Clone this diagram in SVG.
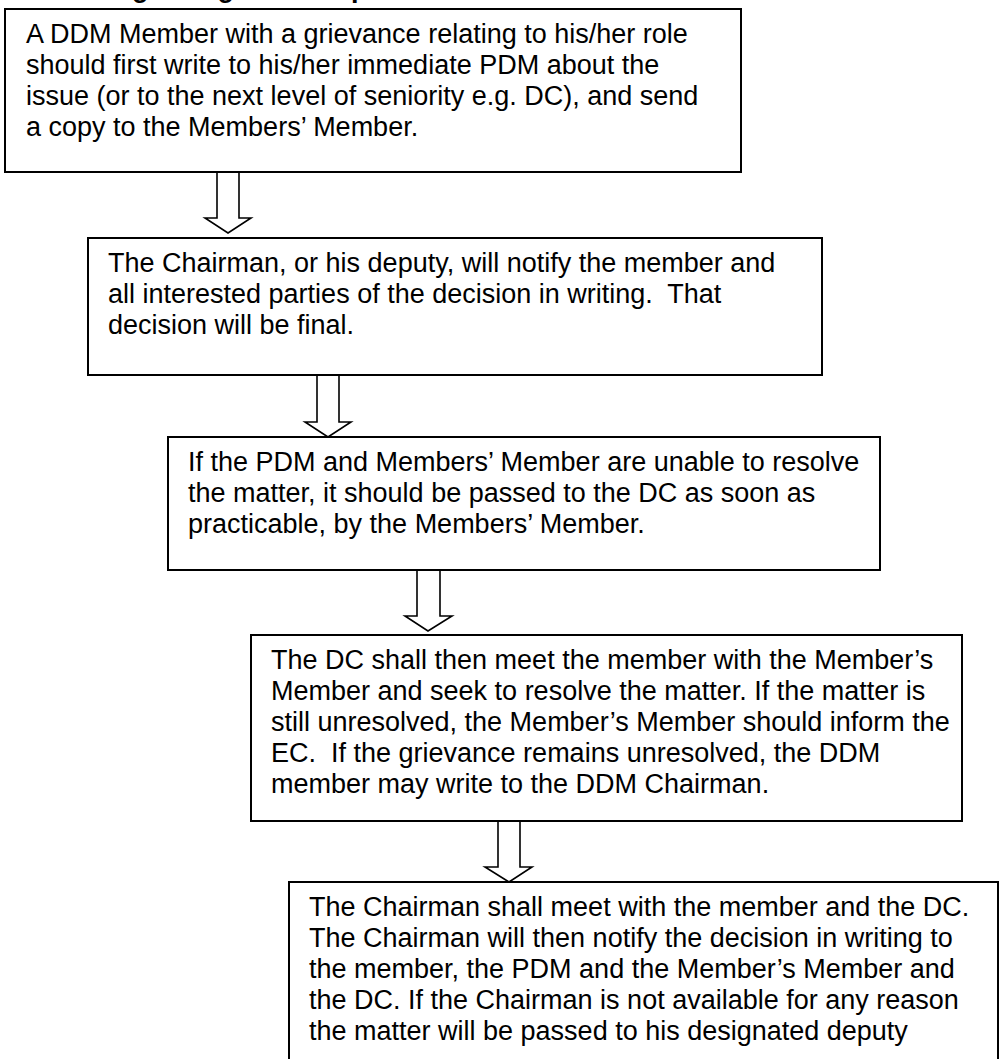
<svg xmlns="http://www.w3.org/2000/svg" width="1008" height="1059" viewBox="0 0 1008 1059">
  <style>
    .box { fill: #ffffff; stroke: #000000; stroke-width: 2; }
    .arrow { fill: #ffffff; stroke: #000000; stroke-width: 1.6; stroke-linejoin: miter; }
    .txt { font-family: "Liberation Sans", Arial, sans-serif; font-size: 27px; fill: #000000; white-space: pre; }
    .head { font-family: "Liberation Sans", Arial, sans-serif; font-size: 27px; font-weight: bold; fill: #000000; }
  </style>
  <rect x="0" y="0" width="1008" height="1059" fill="#ffffff"/>

  <!-- page heading, mostly above the top edge -->
  <text class="head" x="51" y="-3">Dealing with grievance procedure</text>

  <g id="connectors">
    <polygon class="arrow" points="217,172 239,172 239,218 251,218 228,233 205,218 217,218"/>
    <polygon class="arrow" points="317,375 339,375 339,422 351,422 328,437 305,422 317,422"/>
    <polygon class="arrow" points="417,570 440,570 440,616 452,616 428,631 405,616 417,616"/>
    <polygon class="arrow" points="498,821 520,821 520,867 532,867 509,882 485,867 498,867"/>
  </g>

  <g id="step1">
    <rect class="box" x="5" y="9" width="736" height="163"/>
    <text class="txt" x="26" y="43">A DDM Member with a grievance relating to his/her role</text>
    <text class="txt" x="26" y="74">should first write to his/her immediate PDM about the</text>
    <text class="txt" x="26" y="105">issue (or to the next level of seniority e.g. DC), and send</text>
    <text class="txt" x="26" y="136">a copy to the Members’ Member.</text>
  </g>

  <g id="step2">
    <rect class="box" x="88" y="238" width="734" height="137"/>
    <text class="txt" x="108" y="272">The Chairman, or his deputy, will notify the member and</text>
    <text class="txt" x="108" y="303">all interested parties of the decision in writing.  That</text>
    <text class="txt" x="108" y="334">decision will be final.</text>
  </g>

  <g id="step3">
    <rect class="box" x="168" y="437" width="712" height="133"/>
    <text class="txt" x="188" y="471">If the PDM and Members’ Member are unable to resolve</text>
    <text class="txt" x="188" y="502">the matter, it should be passed to the DC as soon as</text>
    <text class="txt" x="188" y="533">practicable, by the Members’ Member.</text>
  </g>

  <g id="step4">
    <rect class="box" x="251" y="635" width="711" height="186"/>
    <text class="txt" x="271" y="669">The DC shall then meet the member with the Member’s</text>
    <text class="txt" x="271" y="700">Member and seek to resolve the matter. If the matter is</text>
    <text class="txt" x="271" y="731">still unresolved, the Member’s Member should inform the</text>
    <text class="txt" x="271" y="762">EC.  If the grievance remains unresolved, the DDM</text>
    <text class="txt" x="271" y="793">member may write to the DDM Chairman.</text>
  </g>

  <g id="step5">
    <rect class="box" x="289" y="882" width="709" height="200"/>
    <text class="txt" x="309" y="916">The Chairman shall meet with the member and the DC.</text>
    <text class="txt" x="309" y="947">The Chairman will then notify the decision in writing to</text>
    <text class="txt" x="309" y="978">the member, the PDM and the Member’s Member and</text>
    <text class="txt" x="309" y="1009">the DC. If the Chairman is not available for any reason</text>
    <text class="txt" x="309" y="1040">the matter will be passed to his designated deputy</text>
  </g>
</svg>
